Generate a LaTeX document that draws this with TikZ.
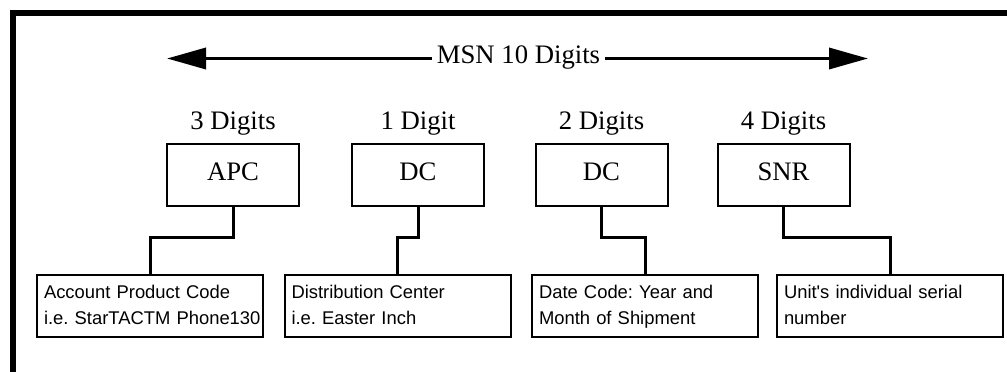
\documentclass[tikz,border=0pt]{standalone}
\usepackage{fontspec}
\setmainfont{Liberation Serif}
\newfontfamily\arialfont{Liberation Sans}
\usetikzlibrary{arrows.meta}
\frenchspacing
\tikzset{
  big/.style={font=\fontsize{26.7}{30}\selectfont},
  codebox/.style={draw, line width=2pt, minimum width=132pt, minimum height=62pt,
    inner sep=0pt, big, text height=18pt, text depth=8pt},
  descbox/.style={draw, line width=2pt, minimum width=226pt, minimum height=62pt,
    inner xsep=7pt, inner ysep=0pt, text width=212pt, align=left,
    font=\arialfont\fontsize{18.4}{26}\selectfont, text height=13pt, text depth=29pt},
  digits/.style={big, anchor=base, inner sep=0pt},
  conn/.style={line width=3pt},
  span/.style={line width=3.5pt, -{Triangle[length=39pt,width=21pt]}},
}
\begin{document}
\begin{tikzpicture}[x=1pt,y=-1pt]
\useasboundingbox (0,0) rectangle (1007,372);
\fill[white] (0,0) rectangle (1007,372);
% frame (only top and left visible)
\draw[line width=6pt] (13,372) -- (13,13) -- (1007,13);
% title arrow
\node[big, anchor=base, inner xsep=5pt, inner ysep=0pt] (msn) at (518.5,63) {MSN 10 Digits};
\coordinate (L) at (167,58.5);
\coordinate (R) at (868,58.5);
\draw[span] (msn.west |- L) -- (L);
\draw[span] (msn.east |- R) -- (R);
% code boxes
\node[codebox] (apc) at (233,175) {APC};
\node[codebox] (dc1) at (418,175) {DC};
\node[codebox] (dc2) at (601.5,175) {DC};
\node[codebox] (snr) at (783.5,175) {SNR};
% digit labels
\node[digits] (l1) at (apc.north |- 0,129) {3 Digits};
\node[digits] (l2) at (dc1.north |- 0,129) {1 Digit};
\node[digits] (l3) at (dc2.north |- 0,129) {2 Digits};
\node[digits] (l4) at (snr.north |- 0,129) {4 Digits};
% description boxes
\node[descbox] (b1) at (150,306) {\mbox{Account Product Code}\\\mbox{i.e. StarTACTM Phone130}};
\node[descbox] (b2) at (397.5,306) {\mbox{Distribution Center}\\\mbox{i.e. Easter Inch}};
\node[descbox] (b3) at (645,306) {\mbox{Date Code: Year and}\\\mbox{Month of Shipment}};
\node[descbox] (b4) at (890,306) {\mbox{Unit's individual serial}\\\mbox{number}};
% connectors
\draw[conn] (apc.south) -- (apc.south |- 0,237) -| (b1.north);
\draw[conn] (dc1.south) -- (dc1.south |- 0,237) -| (b2.north);
\draw[conn] (dc2.south) -- (dc2.south |- 0,237) -| (b3.north);
\draw[conn] (snr.south) -- (snr.south |- 0,237) -| (b4.north);
\end{tikzpicture}
\end{document}
